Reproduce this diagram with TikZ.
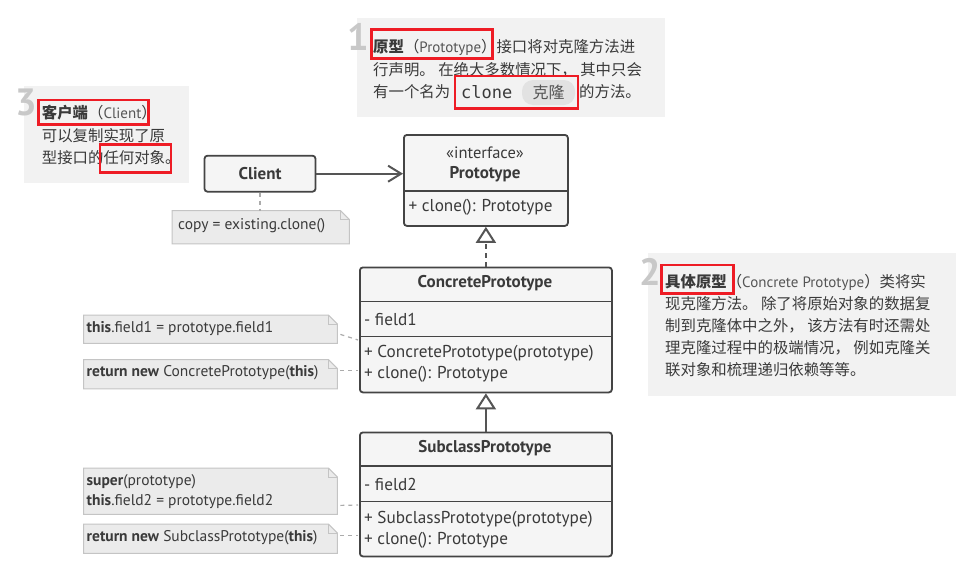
\documentclass[tikz,border=0pt]{standalone}
\usepackage{fontspec}
\setmainfont{PT Sans}
\newfontfamily\cjk{Noto Sans CJK SC}
\newfontfamily\monof{DejaVu Sans Mono}
\usetikzlibrary{arrows.meta}
\definecolor{boxc}{HTML}{444444}
\definecolor{boxf}{HTML}{F5F5F5}
\definecolor{notef}{HTML}{EBEBEB}
\definecolor{notec}{HTML}{C4C4C4}
\definecolor{explf}{HTML}{F2F2F2}
\definecolor{numc}{HTML}{C8C8C8}
\definecolor{redc}{HTML}{EE1C25}
\definecolor{txtc}{HTML}{3A3A3A}
\definecolor{latc}{HTML}{555555}
\definecolor{dashc}{HTML}{ABABAB}
\definecolor{pillc}{HTML}{E2E2E2}
\definecolor{arrc}{HTML}{555555}
\newcommand\ltn[1]{{\rmfamily\fontsize{15}{15}\selectfont\color{latc}#1}}
\newcommand\mkfoldnote[5]{%
  \node[anchor=north west, minimum width=#4pt, minimum height=#5pt, inner sep=0] (#1) at (#2,#3) {};
  \draw[notest] (#1.north west) -- ([xshift=-9pt]#1.north east) -- ([yshift=-9pt]#1.north east) -- (#1.south east) -- (#1.south west) -- cycle;
  \draw[notefold] ([xshift=-9pt]#1.north east) -- ([xshift=-9pt,yshift=-9pt]#1.north east) -- ([yshift=-9pt]#1.north east);
}
\begin{document}
\begin{tikzpicture}[x=1pt,y=-1pt,
  explbox/.style={fill=explf, inner sep=0},
  numst/.style={text=numc, font=\fontsize{38}{38}\selectfont\bfseries, inner sep=0},
  el/.style={anchor=west, inner sep=0, text=txtc, font=\cjk\fontsize{15.4}{15.4}\selectfont},
  redbox/.style={draw=redc, line width=2.6pt},
  umlbox/.style={draw=boxc, fill=boxf, line width=1.8pt, rounded corners=3pt, inner sep=0},
  divline/.style={draw=boxc, line width=1.8pt},
  ctitle/.style={inner sep=0, text=txtc, font=\fontsize{17}{17}\selectfont\bfseries},
  ctext/.style={inner sep=0, text=txtc, font=\fontsize{16.5}{16.5}\selectfont},
  cmeth/.style={anchor=west, inner sep=0, text=txtc, font=\fontsize{17.2}{17.2}\selectfont},
  notest/.style={fill=notef, draw=notec, line width=1pt},
  notefold/.style={draw=notec, line width=1pt},
  ntext/.style={anchor=west, inner sep=0, text=txtc, font=\fontsize{15.5}{15.5}\selectfont},
  dashconn/.style={draw=dashc, line width=1.2pt, dash pattern=on 4pt off 4pt},
  assoc/.style={draw=arrc, line width=2pt, -{Straight Barb[length=13pt,width=16pt,line width=2pt]}},
  realize/.style={draw=arrc, line width=2pt, dash pattern=on 5pt off 4pt, -{Triangle[length=16pt,width=20pt,fill=white,line width=2pt]}},
  inherit/.style={draw=arrc, line width=2pt, -{Triangle[length=16pt,width=20pt,fill=white,line width=2pt]}}
]
\useasboundingbox (0,0) rectangle (969,573);
\fill[white] (0,0) rectangle (969,573);

% explanation boxes
\node[explbox, anchor=north west, minimum width=308pt, minimum height=99pt] (e1) at (357,18) {};
\node[explbox, anchor=north west, minimum width=165pt, minimum height=97pt] (e3) at (23.5,86) {};
\node[explbox, anchor=north west, minimum width=308pt, minimum height=143pt] (e2) at (648,253) {};

\node[numst] (num1) at (358.5,37) {1};
\node[numst] (num3) at (26.7,102) {3};
\node[numst] (num2) at (650,271.5) {2};

% note 1 text
\node[el] (t1a) at (373,47) {\textbf{原型}（\ltn{Prototype}）接口将对克隆方法进};
\node[el] (t1b) at (373,69.5) {行声明。 在绝大多数情况下， 其中只会};
\node[el] (t1c) at (373,92) {有一个名为};
\node[anchor=west, inner sep=0, text=txtc, font=\monof\fontsize{17}{17}\selectfont] (clone) at (461,92) {clone};
\node[fill=pillc, rounded corners=11pt, minimum width=53pt, minimum height=25pt, inner sep=0, text=latc, font=\cjk\fontsize{16}{16}\selectfont] (pill) at (548.5,92.5) {克隆};
\node[el] (t1d) at (579,92) {的方法。};
\draw[redbox] (371.7,29.3) rectangle (492.7,58.3);
\draw[redbox] (455,76) rectangle (578,108.3);

% note 3 text
\node[el] (t3a) at (41.7,113) {\textbf{客户端}（\ltn{Client}）};
\node[el] (t3b) at (41.7,136) {可以复制实现了原};
\node[el] (t3c) at (41.7,158) {型接口的任何对象。};
\draw[redbox] (38.3,100) rectangle (148.3,124.3);
\draw[redbox] (100,144.3) rectangle (171,172.7);

% note 2 text
\node[el] (t2a) at (665,282) {\textbf{具体原型}（\ltn{Concrete Prototype}）类将实};
\node[el] (t2b) at (665,304) {现克隆方法。 除了将原始对象的数据复};
\node[el] (t2c) at (665,326) {制到克隆体中之外， 该方法有时还需处};
\node[el] (t2d) at (665,348) {理克隆过程中的极端情况， 例如克隆关};
\node[el] (t2e) at (665,370) {联对象和梳理递归依赖等等。};
\draw[redbox] (661.7,265) rectangle (733.3,293.3);

% Client
\node[umlbox, minimum width=111pt, minimum height=36pt, text=txtc, font=\fontsize{17}{17}\selectfont\bfseries] (client) at (260,173.7) {Client};

% Prototype
\node[umlbox, anchor=north west, minimum width=164pt, minimum height=91pt] (proto) at (403,134) {};
\draw[divline] (proto.west |- 0,190.7) -- (proto.east |- 0,190.7);
\node[ctext] (protost) at (485,152.3) {«interface»};
\node[ctitle] (prototitle) at (485,174.3) {Prototype};
\node[cmeth] (protoclone) at (408.5,207.7) {+ clone(): Prototype};

% ConcretePrototype
\node[umlbox, anchor=north west, minimum width=252pt, minimum height=125pt] (cp) at (359,266.5) {};
\draw[divline] (cp.west |- 0,301.5) -- (cp.east |- 0,301.5);
\draw[divline] (cp.west |- 0,336.5) -- (cp.east |- 0,336.5);
\node[ctitle] (cptitle) at (485,283.5) {ConcretePrototype};
\node[cmeth] (cpfield) at (364,319.5) {- field1};
\node[cmeth] (cpctor) at (364,353) {+ ConcretePrototype(prototype)};
\node[cmeth] (cpclone) at (364,374) {+ clone(): Prototype};

% SubclassPrototype
\node[umlbox, anchor=north west, minimum width=252pt, minimum height=124pt] (sp) at (359,431.5) {};
\draw[divline] (sp.west |- 0,466) -- (sp.east |- 0,466);
\draw[divline] (sp.west |- 0,501.5) -- (sp.east |- 0,501.5);
\node[ctitle] (sptitle) at (485,448.5) {SubclassPrototype};
\node[cmeth] (spfield) at (364,484) {- field2};
\node[cmeth] (spctor) at (364,519.5) {+ SubclassPrototype(prototype)};
\node[cmeth] (spclone) at (364,540.5) {+ clone(): Prototype};

% notes
\mkfoldnote{ncopy}{172}{210.5}{177}{33}
\node[ntext] (ncopyt) at (178,226) {copy = existing.clone()};
\mkfoldnote{n1}{83.5}{315}{253.5}{28}
\node[ntext] (n1t) at (86.5,328.5) {\textbf{this}.field1 = prototype.field1};
\mkfoldnote{n2}{83.5}{359.5}{253.5}{29}
\node[ntext] (n2t) at (86.5,373) {\textbf{return new} ConcretePrototype(\textbf{this})};
\mkfoldnote{n3}{83.5}{468}{253.5}{46}
\node[ntext] (n3t) at (86.5,481.5) {\textbf{super}(prototype)};
\node[ntext] (n3u) at (86.5,501.5) {\textbf{this}.field2 = prototype.field2};
\mkfoldnote{n4}{83.5}{524}{253.5}{29}
\node[ntext] (n4t) at (86.5,537.5) {\textbf{return new} SubclassPrototype(\textbf{this})};

% connectors
\coordinate (c1) at (358,340);
\coordinate (c2) at (358,370.5);
\coordinate (c3) at (358,505);
\coordinate (c4) at (358,535.5);
\draw[dashconn] (client.south) -- (ncopy.north -| client.south);
\draw[dashconn] ([xshift=3pt,yshift=9pt]n1.south east) -- (c1);
\draw[dashconn] ([xshift=3pt]n2.east |- c2) -- (c2);
\draw[dashconn] ([xshift=3pt,yshift=9pt]n3.south east) -- (c3);
\draw[dashconn] ([xshift=3pt]n4.east |- c4) -- (c4);

\draw[assoc] (client.east) -- (proto.west |- client.east);
\draw[realize] (cp.north) -- (proto.south);
\draw[inherit] (sp.north) -- (cp.south);
\end{tikzpicture}
\end{document}
